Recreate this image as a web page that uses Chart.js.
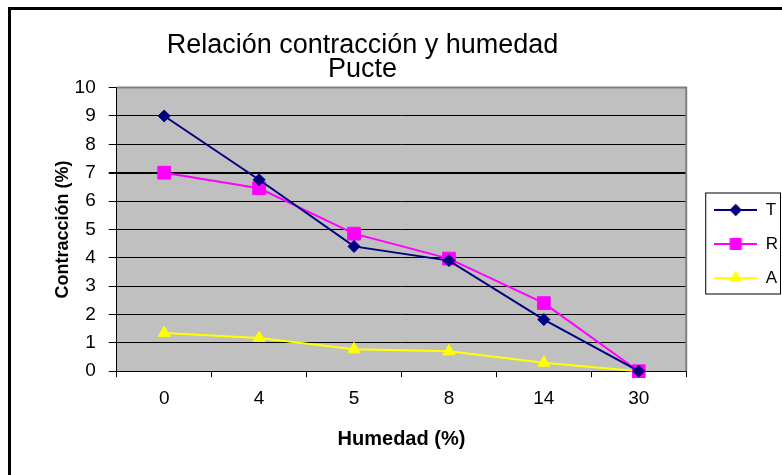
<!DOCTYPE html>
<html>
<head>
<meta charset="utf-8">
<title>Relación contracción y humedad - Pucte</title>
<script src="https://cdn.jsdelivr.net/npm/chart.js@4/dist/chart.umd.min.js"></script>
<style>
  html, body { margin: 0; padding: 0; background: #fff; }
  canvas { display: block; }
</style>
</head>
<body>
<canvas id="grafica" width="782" height="475"></canvas>
<script>
// datos
const humedad = ['0', '4', '5', '8', '14', '30'];
const series = ['T', 'R', 'A'];
const contraccionT = [9, 6.75, 4.4, 3.9, 1.82, 0];
const contraccionR = [7, 6.45, 4.85, 3.97, 2.4, 0];
const contraccionA = [1.35, 1.17, 0.77, 0.7, 0.3, 0];

const fuente = "'Liberation Sans', Arial, sans-serif";
const colores = ['#000080', '#FF00FF', '#FFFF00'];
const estilos = ['rectRot', 'rect', 'triangle'];
const radios = [6, 9, 7];

// icono de la leyenda: linea con el marcador en medio
function iconoLeyenda(color, estilo, radio) {
    const c = document.createElement('canvas');
    c.width = 43;
    c.height = 18;
    const ctx = c.getContext('2d');
    ctx.strokeStyle = color;
    ctx.lineWidth = 2;
    ctx.beginPath();
    ctx.moveTo(0, 9);
    ctx.lineTo(43, 9);
    ctx.stroke();
    ctx.fillStyle = color;
    Chart.helpers.drawPoint(ctx, { pointStyle: estilo, radius: radio, rotation: 0, borderWidth: 1 }, 21.5, 9);
    return c;
}
const iconos = series.map((s, i) => iconoLeyenda(colores[i], estilos[i], radios[i] * 0.8));

const marco = {
    id: 'marco',
    beforeDraw(chart) {
        const { ctx, chartArea } = chart;
        ctx.save();
        ctx.fillStyle = '#fff';
        ctx.fillRect(0, 0, chart.width, chart.height);
        ctx.strokeStyle = '#000';
        ctx.lineWidth = 3;
        ctx.beginPath();
        ctx.moveTo(9.5, 7);
        ctx.lineTo(9.5, chart.height);
        ctx.moveTo(8, 8.5);
        ctx.lineTo(chart.width, 8.5);
        ctx.stroke();
        ctx.fillStyle = '#C0C0C0';
        ctx.fillRect(chartArea.left, chartArea.top, chartArea.right - chartArea.left, chartArea.bottom - chartArea.top);
        ctx.restore();
    },
    afterLayout(chart) {
        // titulo algo a la izquierda, leyenda un poco a la derecha
        chart.titleBlock.left -= 51;
        chart.titleBlock.right -= 51;
        chart.legend.left += 11;
        chart.legend.right += 11;
        chart.legend.top += 2;
        chart.legend.bottom += 2;
    },
    beforeDatasetsDraw(chart) {
        const { ctx, chartArea } = chart;
        ctx.save();
        ctx.strokeStyle = '#808080';
        ctx.lineWidth = 2;
        ctx.beginPath();
        ctx.moveTo(chartArea.left, chartArea.top);
        ctx.lineTo(chartArea.right, chartArea.top);
        ctx.lineTo(chartArea.right, chartArea.bottom);
        ctx.stroke();
        ctx.restore();
    },
    afterDraw(chart) {
        const cajas = chart.legend.legendHitBoxes;
        if (!cajas || !cajas.length) return;
        const ctx = chart.ctx;
        const izq = cajas[0].left - 9;
        const arriba = cajas[0].top - 9;
        const abajo = cajas[cajas.length - 1].top + cajas[cajas.length - 1].height + 7;
        ctx.save();
        ctx.strokeStyle = '#000';
        ctx.lineWidth = 1;
        ctx.strokeRect(izq + 0.5, arriba + 0.5, chart.width - 2 - izq, abajo - arriba);
        ctx.restore();
    }
};

const datos = [contraccionT, contraccionR, contraccionA];

new Chart(document.getElementById('grafica'), {
    type: 'line',
    data: {
        labels: humedad,
        datasets: series.map((s, i) => ({
            label: s,
            data: datos[i],
            borderColor: colores[i],
            backgroundColor: colores[i],
            borderWidth: 2,
            pointStyle: estilos[i],
            pointRadius: radios[i],
            pointHoverRadius: radios[i],
            pointBorderWidth: 1,
            tension: 0,
            fill: false,
            clip: false
        }))
    },
    options: {
        responsive: false,
        animation: false,
        layout: { autoPadding: false, padding: { left: 50, right: 5, top: 33, bottom: 24 } },
        plugins: {
            title: {
                display: true,
                text: ['Relación contracción y humedad', 'Pucte'],
                color: '#000',
                font: { family: fuente, size: 27, weight: 'normal', lineHeight: 0.9 },
                padding: { top: 0, bottom: 6 }
            },
            legend: {
                position: 'right',
                labels: {
                    usePointStyle: true,
                    pointStyleWidth: 43,
                    boxHeight: 16,
                    padding: 17,
                    color: '#000',
                    font: { family: fuente, size: 17 },
                    generateLabels: chart => chart.data.datasets.map((ds, i) => ({
                        text: ds.label,
                        pointStyle: iconos[i],
                        fillStyle: ds.borderColor,
                        strokeStyle: ds.borderColor,
                        lineWidth: 0,
                        hidden: false,
                        datasetIndex: i
                    }))
                }
            },
            tooltip: { enabled: false }
        },
        scales: {
            x: {
                offset: true,
                grid: { display: true, drawOnChartArea: false, drawTicks: true, tickLength: 6, color: '#000', offset: true },
                border: { color: '#000', width: 1 },
                ticks: { color: '#000', padding: 10, font: { family: fuente, size: 19 } },
                title: {
                    display: true,
                    text: 'Humedad (%)',
                    color: '#000',
                    font: { family: fuente, size: 20, weight: 'bold' },
                    padding: { top: 7, bottom: 0 }
                }
            },
            y: {
                min: 0,
                max: 10,
                ticks: { stepSize: 1, color: '#000', padding: 13, font: { family: fuente, size: 19 } },
                grid: {
                    color: '#000',
                    lineWidth: c => (c.tick && c.tick.value === 7 ? 2 : 1),
                    tickLength: 8
                },
                border: { color: '#000', width: 1 },
                title: {
                    display: true,
                    text: 'Contracción (%)',
                    color: '#000',
                    font: { family: fuente, size: 18, weight: 'bold' },
                    padding: { top: 2, bottom: -12 }
                }
            }
        }
    },
    plugins: [marco]
});
</script>
</body>
</html>
